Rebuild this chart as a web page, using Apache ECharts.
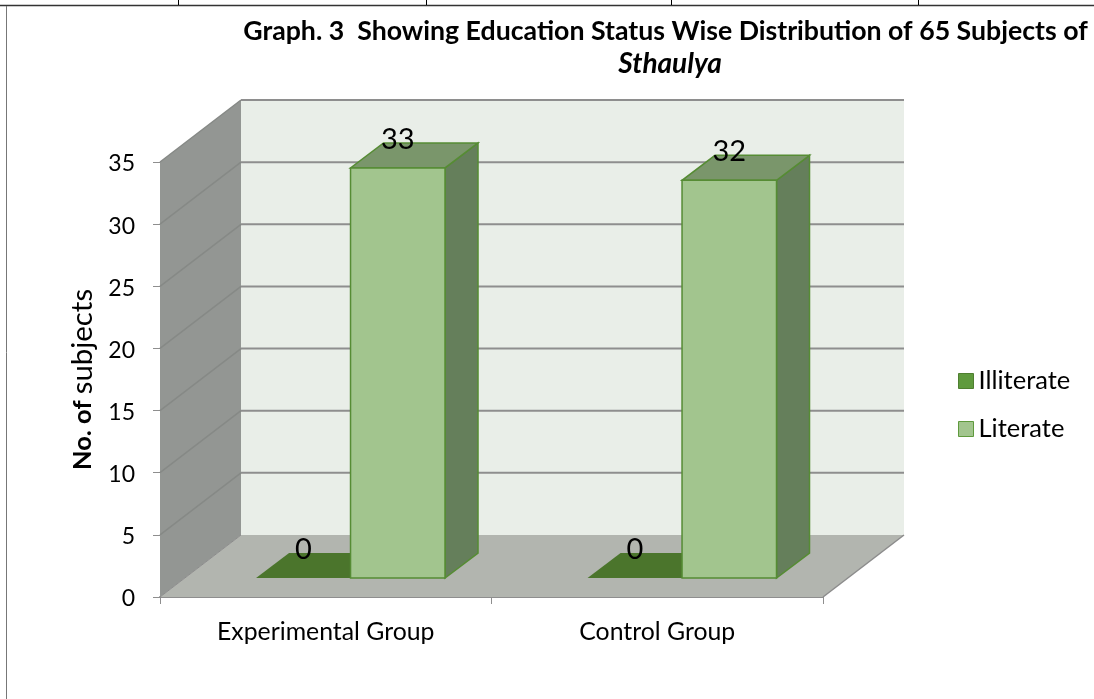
<!DOCTYPE html>
<html>
<head>
<meta charset="utf-8">
<style>html,body{margin:0;padding:0;background:#fff}#c{width:1094px;height:699px}</style>
<script src="https://cdn.jsdelivr.net/npm/echarts@6/dist/echarts.min.js"></script>
</head>
<body>
<div id="c"></div>
<script>
const categories = ['Experimental Group', 'Control Group'];
const illiterate = [0, 0];
const literate = [33, 32];
const yTicks = [0, 5, 10, 15, 20, 25, 30, 35];
const seriesNames = ['Illiterate', 'Literate'];
const titleLine1 = 'Graph. 3  Showing Education Status Wise Distribution of 65 Subjects of';
const titleLine2 = 'Sthaulya';

const FONT = 'Lato';
const DX = 81, DY = 62;           // depth of the floor
const BAR_DX = 33, BAR_DY = 25;   // depth of a bar
const INSET = 0.306;              // how far into the floor bars stand
const BAR_W = 0.285;              // bar width as share of a category band

function poly(points, fill, stroke, lw) {
  return { type: 'polygon', shape: { points }, silent: true,
    style: { fill, stroke: stroke || null, lineWidth: lw || 0 } };
}
function line(x1, y1, x2, y2, stroke, lw) {
  return { type: 'line', shape: { x1, y1, x2, y2 }, silent: true, style: { stroke, lineWidth: lw } };
}

function renderChrome(params, api) {
  const cs = params.coordSys;
  const L = cs.x, R = cs.x + cs.width;
  const yBase = api.coord([0, 0])[1], yTop = api.coord([0, yTicks[yTicks.length - 1]])[1];
  const kids = [
    poly([[L + DX, yTop - DY], [R + DX, yTop - DY], [R + DX, yBase - DY], [L + DX, yBase - DY]], '#e9eee8'),
    poly([[L, yTop], [L + DX, yTop - DY], [L + DX, yBase - DY], [L, yBase]], '#939693'),
    poly([[L, yBase], [R, yBase], [R + DX, yBase - DY], [L + DX, yBase - DY]], '#b2b5af'),
    line(R, yBase, R + DX, yBase - DY, '#8c8c8c', 1.5),
    line(L, yBase, L + DX, yBase - DY, '#8c8c8c', 1)
  ];
  yTicks.forEach(function (t) {
    if (t === 0) return;
    const y = api.coord([0, t])[1];
    kids.push(line(L, y, L + DX, y - DY, '#868986', 1.5));
    kids.push(line(L + DX, y - DY, R + DX, y - DY, '#8e8e8e', 2));
  });
  return { type: 'group', children: kids };
}

function makeBar(side, colors) {
  return function (params, api) {
    const cat = api.value(0), v = api.value(1);
    const band = api.size([1, 0])[0], w = band * BAR_W;
    const c = api.coord([cat, v]), b = api.coord([cat, 0]);
    const ox = DX * INSET, oy = DY * INSET;
    const x0 = c[0] + ox + (side < 0 ? -w : 0), x1 = x0 + w;
    const yT = c[1] - oy, yB = b[1] - oy;
    const kids = [];
    if (v === 0) {
      kids.push(poly([[x0, yB], [x1, yB], [x1 + BAR_DX, yB - BAR_DY], [x0 + BAR_DX, yB - BAR_DY]], colors.flat));
    } else {
      kids.push(poly([[x1, yT], [x1 + BAR_DX, yT - BAR_DY], [x1 + BAR_DX, yB - BAR_DY], [x1, yB]], colors.side, colors.edge, 1.5));
      kids.push(poly([[x0, yT], [x1, yT], [x1 + BAR_DX, yT - BAR_DY], [x0 + BAR_DX, yT - BAR_DY]], colors.top, colors.edge, 1.5));
      kids.push(poly([[x0, yT], [x1, yT], [x1, yB], [x0, yB]], colors.front, colors.edge, 1.5));
    }
    kids.push({ type: 'text', silent: true, z2: 50,
      style: { x: (x0 + x1) / 2, y: yT - 28.5, text: String(v), fill: '#000',
        fontSize: 29, fontFamily: FONT, textAlign: 'center', textVerticalAlign: 'middle' } });
    return { type: 'group', children: kids };
  };
}

const greenDark = { flat: '#4b752c', side: '#657f5b', top: '#7a966b', front: '#5f9a3d', edge: '#4f8a2e' };
const greenLight = { flat: '#4b752c', side: '#657f5b', top: '#7a966b', front: '#a2c58e', edge: '#568c34' };

const chart = echarts.init(document.getElementById('c'));
chart.setOption({
  animation: false,
  backgroundColor: '#fff',
  textStyle: { fontFamily: FONT },
  title: [
    { text: titleLine1, left: 660.5, textAlign: 'center', top: 13,
      textStyle: { fontFamily: FONT, fontWeight: 'bold', fontSize: 26.7, color: '#000' } },
    { text: titleLine2, left: 665, textAlign: 'center', top: 45,
      textStyle: { fontFamily: FONT, fontWeight: 'bold', fontStyle: 'italic', fontSize: 28, color: '#000' } }
  ],
  legend: {
    orient: 'vertical', left: 953, top: 363, itemWidth: 15, itemHeight: 15, itemGap: 22,
    textStyle: { fontFamily: FONT, fontSize: 25.5, color: '#000', padding: [0, 0, 0, 0] },
    data: [
      { name: seriesNames[0], icon: 'rect', itemStyle: { color: '#5f9a3d', borderColor: '#4f7f30', borderWidth: 1 } },
      { name: seriesNames[1], icon: 'rect', itemStyle: { color: '#a2c58e', borderColor: '#5f9a3d', borderWidth: 1 } }
    ]
  },
  grid: { left: 160, right: 271, top: 162, bottom: 102 },
  xAxis: {
    type: 'category', data: categories, boundaryGap: true,
    axisLine: { lineStyle: { color: '#8e8e8e', width: 2 } },
    axisTick: { show: true, length: 7, alignWithLabel: false, lineStyle: { color: '#8e8e8e', width: 1 } },
    axisLabel: { color: '#000', fontSize: 24.8, margin: 23, fontFamily: FONT },
    splitLine: { show: false }
  },
  yAxis: {
    type: 'value', min: 0, max: 35, interval: 5,
    name: '{b|No. of}  {r|subjects}', nameLocation: 'middle', nameGap: 63, nameRotate: 90,
    nameTextStyle: { rich: {
      b: { fontFamily: FONT, fontWeight: 'bold', fontSize: 25.5, color: '#000' },
      r: { fontFamily: FONT, fontSize: 29.4, color: '#000' } } },
    axisLine: { show: true, lineStyle: { color: '#8e8e8e', width: 1 } },
    axisTick: { show: true, length: 7, lineStyle: { color: '#8e8e8e', width: 1 } },
    axisLabel: { color: '#000', margin: 25, formatter: '{v|{value}}',
      rich: { v: { fontFamily: FONT, fontSize: 23, color: '#000', padding: [4, 0, 0, 0] } } },
    splitLine: { show: false }
  },
  series: [
    { type: 'custom', name: 'walls', z: 1, clip: false, silent: true,
      renderItem: renderChrome, data: [[0, 0]], encode: { x: 0, y: 1 } },
    { type: 'custom', name: seriesNames[0], z: 2, clip: false, silent: true,
      renderItem: makeBar(-1, greenDark), itemStyle: { color: '#5f9a3d' },
      data: illiterate.map(function (v, i) { return [i, v]; }), encode: { x: 0, y: 1 } },
    { type: 'custom', name: seriesNames[1], z: 3, clip: false, silent: true,
      renderItem: makeBar(1, greenLight), itemStyle: { color: '#a2c58e' },
      data: literate.map(function (v, i) { return [i, v]; }), encode: { x: 0, y: 1 } }
  ],
  graphic: [
    { type: 'line', silent: true, shape: { x1: 0, y1: 5.5, x2: 1094, y2: 5.5 }, style: { stroke: '#333', lineWidth: 1.5 } },
    { type: 'line', silent: true, shape: { x1: 6.5, y1: 6, x2: 6.5, y2: 699 }, style: { stroke: '#777', lineWidth: 1 } },
    { type: 'line', silent: true, shape: { x1: 178.5, y1: 0, x2: 178.5, y2: 5 }, style: { stroke: '#000', lineWidth: 1 } },
    { type: 'line', silent: true, shape: { x1: 426.5, y1: 0, x2: 426.5, y2: 5 }, style: { stroke: '#000', lineWidth: 1 } },
    { type: 'line', silent: true, shape: { x1: 671.5, y1: 0, x2: 671.5, y2: 5 }, style: { stroke: '#000', lineWidth: 1 } },
    { type: 'line', silent: true, shape: { x1: 918.5, y1: 0, x2: 918.5, y2: 5 }, style: { stroke: '#000', lineWidth: 1 } }
  ]
});
</script>
</body>
</html>
